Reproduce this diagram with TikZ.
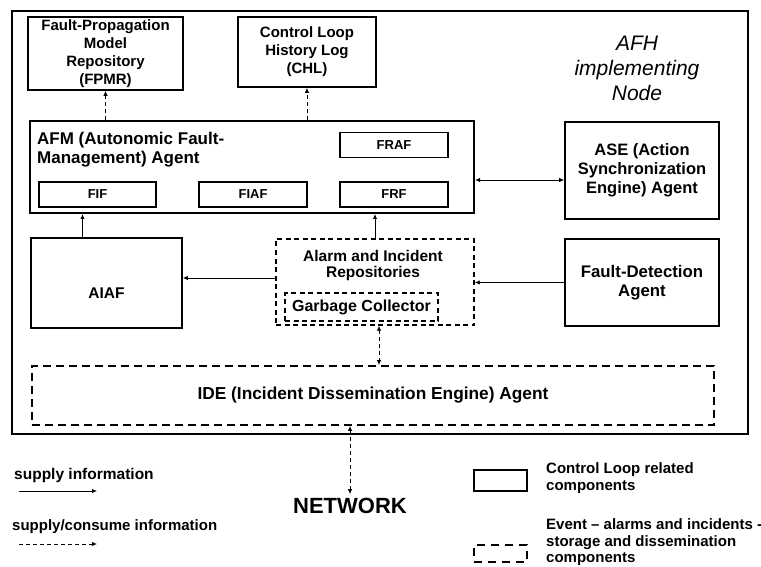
\documentclass[tikz,border=0pt]{standalone}
\usepackage{fontspec}
\setmainfont{Liberation Sans}
\usetikzlibrary{arrows.meta,calc}
\newcommand{\setfs}[2]{\fontsize{#1}{#2}\selectfont}

\begin{document}
\begin{tikzpicture}[x=1pt,y=-1pt,
	comp/.style={draw,line width=1.7pt,align=center,inner sep=1pt,font=\bfseries\setfs{15}{18}},
	sub/.style={draw,line width=1.2pt,minimum width=108pt,minimum height=25pt,font=\bfseries\setfs{13}{15}},
	store/.style={draw,line width=1.4pt,dash pattern=on 5pt off 3.5pt},
	flow/.style={-{Latex[length=5pt,width=4.5pt]},line width=0.9pt},
	flowd/.style={flow,dash pattern=on 4pt off 3pt},
	lbl/.style={inner sep=0pt,align=left,font=\bfseries\setfs{15}{16.5}}]
	\fill[white] (0,0) rectangle (761,567);
	\useasboundingbox (0,0) rectangle (761,567);
	
	%NODE
	\node[draw,line width=2pt,minimum width=736pt,minimum height=423pt] (afh) at (380,222.5) {};
	\node[font=\itshape\setfs{21}{25},align=center] (afht) at (637,68) {AFH\\implementing\\Node};
	
	%REPOSITORIES
	\node[comp,minimum width=155pt,minimum height=73pt] (fpmr) at (105.5,53.5) {Fault-Propagation\\Model\\Repository\\(FPMR)};
	\node[comp,minimum width=138pt,minimum height=70pt] (chl) at (307,52) {Control Loop\\History Log\\(CHL)};
	
	%AFM
	\node[draw,line width=2pt,minimum width=444pt,minimum height=92pt] (afm) at (252,167) {};
	\node[lbl,anchor=north west,font=\bfseries\setfs{17}{19}] (afmt) at (37,132) {AFM (Autonomic Fault-\\Management) Agent};
	\node[sub] (fraf) at (394,145) {FRAF};
	\node[sub,minimum width=117pt] (fif) at (97.5,194.5) {FIF};
	\node[sub] (fiaf) at (253,194.5) {FIAF};
	\node[sub] (frf) at (394,194.5) {FRF};
	
	\node[comp,font=\bfseries\setfs{16.5}{19},minimum width=154pt,minimum height=97pt] (ase) at (642,170.5) {ASE (Action\\Synchronization\\Engine) Agent};
	
	%MIDDLE
	\node[comp,font=\bfseries\setfs{15.5}{18},minimum width=151pt,minimum height=90pt,text height=31pt] (aiaf) at (106.5,283) {AIAF};
	\node[store,minimum width=198pt,minimum height=86pt] (air) at (375,282) {};
	\node[lbl,align=center,anchor=north,font=\bfseries\setfs{15.5}{16.5}] (airt) at (373,250) {Alarm and Incident\\Repositories};
	\node[store,minimum width=153pt,minimum height=28pt,font=\bfseries\setfs{16}{19}] (gc) at (361.5,307) {Garbage Collector};
	\node[comp,font=\bfseries\setfs{16.8}{19},minimum width=154pt,minimum height=87pt] (fda) at (642,282.5) {Fault-Detection\\Agent};
	
	\node[store,line width=1.8pt,dash pattern=on 8pt off 5pt,minimum width=682pt,minimum height=59pt,font=\bfseries\setfs{17.3}{19}] (ide) at (373,395.5) {IDE (Incident Dissemination Engine) Agent};
	
	\node[font=\bfseries\setfs{22}{25}] (net) at (350,505.5) {NETWORK};
	
	%ARROWS
	\draw[flowd] (fpmr.south |- afm.north) -- (fpmr.south);
	\draw[flowd] (chl.south |- afm.north) -- (chl.south);
	\draw[flow] ([xshift=-24pt]aiaf.north) -- ([xshift=-24pt]aiaf.north |- afm.south);
	\draw[flow] (air.north) -- (air.north |- afm.south);
	\draw[flow] ([yshift=4pt]air.west) -- ([yshift=4pt]air.west -| aiaf.east);
	\draw[flow] (fda.west) -- (fda.west -| air.east);
	\draw[flow,{Latex[length=5pt,width=4.5pt]}-{Latex[length=5pt,width=4.5pt]}] ([yshift=-13pt]afm.east) -- ([yshift=-13pt]afm.east -| ase.west);
	\draw[flowd,{Latex[length=5pt,width=4.5pt]}-{Latex[length=5pt,width=4.5pt]}] ([xshift=4pt]air.south) -- ([xshift=4pt]air.south |- ide.north);
	\draw[flowd,{Latex[length=5pt,width=4.5pt]}-{Latex[length=5pt,width=4.5pt]}] (net.north |- ide.south) -- (net.north);
	
	%LEGEND
	\node[lbl,anchor=base west,font=\bfseries\setfs{15.5}{16.5}] (lsup) at (14,479) {supply information};
	\coordinate (lsa) at (19,491);
	\coordinate (lsb) at (97,491);
	\draw[flow] (lsa) -- (lsb);
	\node[lbl,anchor=base west] (lcon) at (12,530) {supply/consume information};
	\coordinate (lca) at (19,544);
	\coordinate (lcb) at (97,544);
	\draw[flowd] (lca) -- (lcb);
	
	\node[draw,line width=1.6pt,minimum width=53pt,minimum height=21pt] (lcl) at (500.5,480.5) {};
	\node[lbl,anchor=north west] (lclt) at (546,462.5) {Control Loop related\\components};
	\node[store,line width=1.6pt,dash pattern=on 8pt off 6pt,minimum width=53pt,minimum height=17pt] (lev) at (500.5,553.5) {};
	\node[lbl,anchor=north west] (levt) at (546,518.5) {Event -- alarms and incidents -\\storage and dissemination\\components};
\end{tikzpicture}
\end{document}
